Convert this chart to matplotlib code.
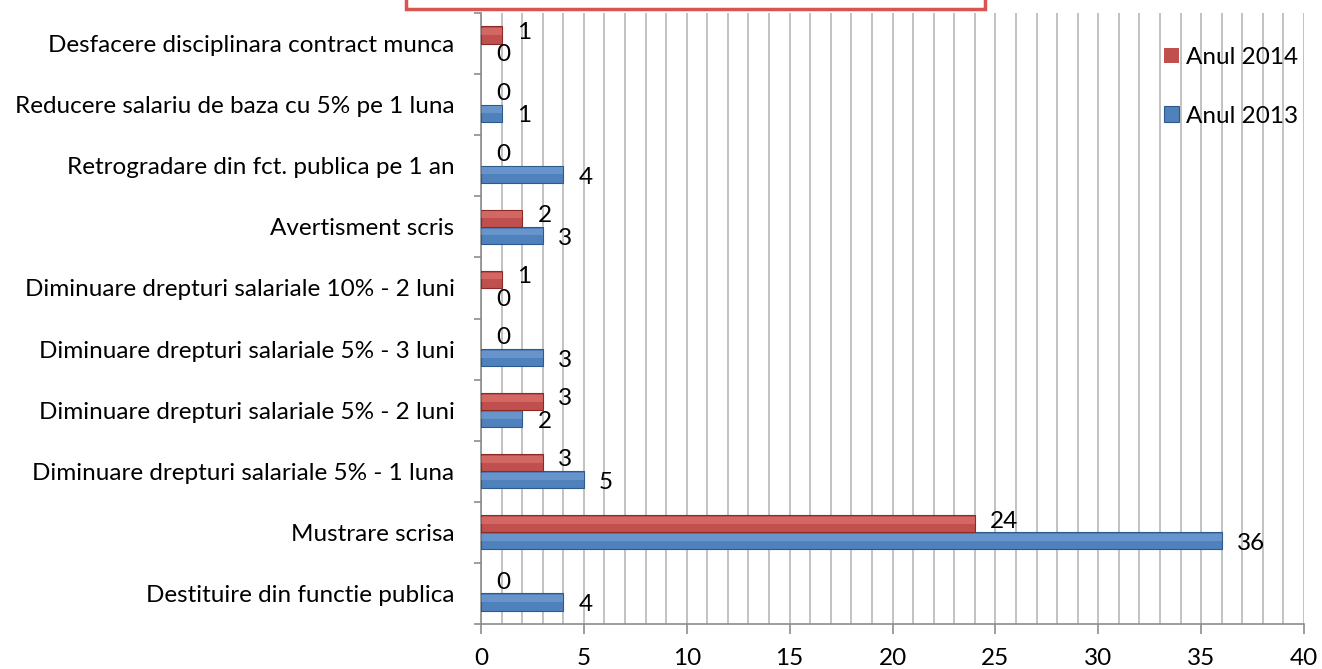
import matplotlib
matplotlib.use("Agg")
import matplotlib.pyplot as plt
from matplotlib.patches import Rectangle
from matplotlib.ticker import MultipleLocator
import numpy as np

plt.rcParams['font.family'] = ['Lato', 'DejaVu Sans']

categories = [
    "Destituire din functie publica",
    "Mustrare scrisa",
    "Diminuare drepturi salariale 5% - 1 luna",
    "Diminuare drepturi salariale 5% - 2 luni",
    "Diminuare drepturi salariale 5% - 3 luni",
    "Diminuare drepturi salariale 10% - 2 luni",
    "Avertisment scris",
    "Retrogradare din fct. publica pe 1 an",
    "Reducere salariu de baza cu 5% pe 1 luna",
    "Desfacere disciplinara contract munca",
]
anul_2013 = [4, 36, 5, 2, 3, 0, 3, 4, 1, 0]
anul_2014 = [0, 24, 3, 3, 0, 1, 2, 0, 0, 1]
series_names = ["Anul 2013", "Anul 2014"]
xticks = [0, 5, 10, 15, 20, 25, 30, 35, 40]

blue = "#4f81bd"
blue_dark = "#2c5a8f"
blue_light = "#8db3e2"
red = "#c0504d"
red_dark = "#8c2a28"
red_light = "#f08a87"

fig = plt.figure(figsize=(13.22, 6.69), dpi=100)
ax = fig.add_axes([481/1322, 1-624/669, (1304-481)/1322, (624-13)/669])

y = np.arange(len(categories))
h = 0.28
fs = 17.5

def edge_w(vals):
    return [0.8 if v > 0 else 0 for v in vals]

ax.barh(y - h/2, anul_2013, height=h, color=blue, edgecolor=blue_dark,
        linewidth=edge_w(anul_2013), zorder=3, label=series_names[0])
ax.barh(y + h/2, anul_2014, height=h, color=red, edgecolor=red_dark,
        linewidth=edge_w(anul_2014), zorder=3, label=series_names[1])
# soft highlight for a 3D look
ax.barh(y - h/2 + h*0.2, anul_2013, height=h*0.4, color=blue_light, linewidth=0, zorder=4, alpha=0.4)
ax.barh(y + h/2 + h*0.2, anul_2014, height=h*0.4, color=red_light, linewidth=0, zorder=4, alpha=0.4)

for yi, v in zip(y, anul_2013):
    ax.annotate(str(v), (v, yi - h/2), xytext=(11, -2), textcoords="offset points",
                ha="left", va="center", fontsize=fs, zorder=5)
for yi, v in zip(y, anul_2014):
    ax.annotate(str(v), (v, yi + h/2), xytext=(11, 2), textcoords="offset points",
                ha="left", va="center", fontsize=fs, zorder=5)

ax.set_xlim(0, 40)
ax.set_ylim(-0.5, len(categories) - 0.5)
ax.xaxis.set_minor_locator(MultipleLocator(1))
ax.set_xticks(xticks)
ax.set_xticklabels([str(t) for t in xticks], fontsize=fs)
ax.grid(True, axis="x", which="both", color="#b8b8b8", linewidth=1.2, zorder=0)
ax.set_axisbelow(True)

ax.set_yticks(y)
ax.set_yticklabels(categories, fontsize=fs)
ax.tick_params(axis="y", which="major", length=0, pad=19)
ax.set_yticks(np.arange(-0.5, len(categories), 1), minor=True)
ax.tick_params(axis="y", which="minor", length=5, color="#8c8c8c", width=1.2)
ax.tick_params(axis="x", which="major", length=7, color="#8c8c8c", width=1.2, pad=10)
ax.tick_params(axis="x", which="minor", length=0)

for s in ["top", "right"]:
    ax.spines[s].set_visible(False)
for s in ["left", "bottom"]:
    ax.spines[s].set_color("#8c8c8c")
    ax.spines[s].set_linewidth(1.2)

handles, labels = ax.get_legend_handles_labels()
fig.legend(handles[::-1], labels[::-1], loc="upper left",
           bbox_to_anchor=(1164/1322, 1-47/669), frameon=False,
           fontsize=fs, labelspacing=1.55, handlelength=0.6, handleheight=0.6,
           handletextpad=0.3, borderaxespad=0, borderpad=0)

# partially visible title box at the top
fig.patches.append(Rectangle((406/1322, 1-9/669), (985-406)/1322, 0.05,
                             transform=fig.transFigure, facecolor="white",
                             edgecolor="#d9534f", linewidth=2.5, zorder=10))

fig.savefig("out.png", dpi=100)
